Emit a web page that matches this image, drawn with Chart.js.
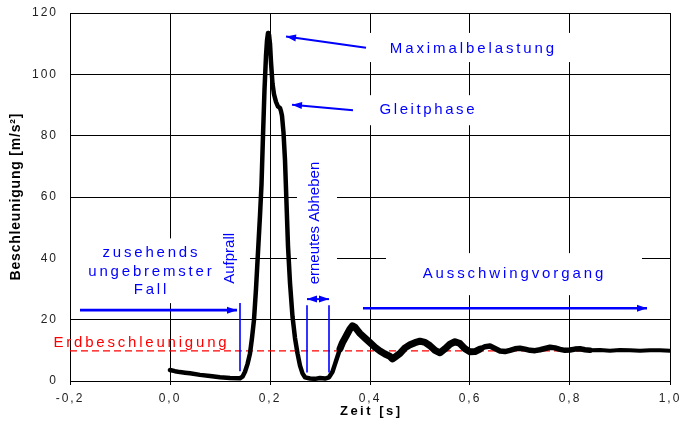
<!DOCTYPE html>
<html>
<head>
<meta charset="utf-8">
<script src="https://cdn.jsdelivr.net/npm/chart.js@4/dist/chart.umd.min.js"></script>
<style>
  body { margin: 0; background: #fff; }
  canvas { display: block; }
</style>
</head>
<body>
<canvas id="grafik" width="681" height="427"></canvas>
<script>
const zeit = [
  0.000, 0.010, 0.020, 0.030, 0.040, 0.060, 0.080, 0.100, 0.120, 0.140,
  0.145, 0.150, 0.155, 0.160, 0.164, 0.168, 0.172, 0.176, 0.180, 0.183,
  0.186, 0.189, 0.192, 0.194, 0.196, 0.197, 0.198, 0.200, 0.202, 0.205,
  0.208, 0.212, 0.216, 0.220, 0.222, 0.224, 0.227, 0.230, 0.233, 0.236,
  0.240, 0.245, 0.250, 0.255, 0.260, 0.265, 0.270, 0.280, 0.290, 0.300,
  0.310, 0.318, 0.325, 0.330, 0.335, 0.340, 0.345, 0.350, 0.355, 0.360,
  0.365, 0.370, 0.375, 0.380, 0.390, 0.400, 0.410, 0.420, 0.430, 0.440,
  0.445, 0.450, 0.460, 0.470, 0.480, 0.490, 0.500, 0.510, 0.520, 0.530,
  0.540, 0.550, 0.560, 0.570, 0.580, 0.590, 0.600, 0.610, 0.620, 0.630,
  0.640, 0.650, 0.660, 0.670, 0.680, 0.690, 0.700, 0.710, 0.720, 0.730,
  0.740, 0.750, 0.760, 0.770, 0.780, 0.790, 0.800, 0.810, 0.820, 0.830,
  0.840, 0.860, 0.880, 0.900, 0.920, 0.940, 0.960, 0.980, 1.000
];
const beschleunigung = [
  3.6, 3.2, 2.9, 2.7, 2.5, 2.0, 1.6, 1.2, 1.0, 0.9,
  1.4, 3.0, 5.5, 9.0, 14, 20, 30, 42, 54, 64,
  80, 95, 106, 111, 113.5, 111.5, 113, 110, 104, 97,
  93.5, 91, 89.5, 89, 88, 86.5, 81, 72, 58, 44,
  32, 21, 14, 9, 5, 2.5, 1.2, 0.8, 0.7, 1.0,
  0.8, 1.2, 3.0, 5.5, 8.0, 10.5, 12.5, 14, 15.5, 17,
  18, 17.5, 16.5, 15.5, 14, 12.5, 11, 9.8, 8.8, 8.0,
  7.2, 7.8, 9.0, 10.8, 11.8, 12.5, 13, 12.6, 11.5, 10,
  9.2, 10.5, 12, 12.8, 12.2, 10.5, 9.5, 9.6, 10.4, 11.2,
  11.4, 10.6, 9.8, 9.6, 10, 10.5, 10.7, 10.4, 10, 9.9,
  10.2, 10.6, 11, 10.8, 10.3, 10, 10.1, 10.4, 10.5, 10.2,
  10, 10.1, 9.9, 10.1, 10, 9.9, 10, 10, 9.9
];
const erdX = [-0.2, 1.0];
const erdY = [9.81, 9.81];
const xTickLabels = ['-0,2', '0,0', '0,2', '0,4', '0,6', '0,8', '1,0'];
const yTickLabels = ['0', '20', '40', '60', '80', '100', '120'];

const FONT = '"Liberation Sans", Arial, sans-serif';
const BLAU = '#0000ff';
const ROT = '#ff0000';

function text(ctx, s, x, y, font, color, sp, rot) {
  ctx.save();
  ctx.font = font;
  ctx.fillStyle = color;
  ctx.letterSpacing = sp + 'px';
  ctx.textAlign = 'center';
  ctx.textBaseline = 'middle';
  ctx.translate(x, y);
  if (rot) ctx.rotate(-Math.PI / 2);
  ctx.fillText(s, sp / 2, 0);
  ctx.restore();
}

function head(ctx, x0, y0, x1, y1, len, w) {
  const a = Math.atan2(y1 - y0, x1 - x0);
  ctx.beginPath();
  ctx.moveTo(x1, y1);
  ctx.lineTo(x1 - len * Math.cos(a) + w * Math.sin(a), y1 - len * Math.sin(a) - w * Math.cos(a));
  ctx.lineTo(x1 - len * Math.cos(a) - w * Math.sin(a), y1 - len * Math.sin(a) + w * Math.cos(a));
  ctx.closePath();
  ctx.fill();
}

function arrow(ctx, x0, y0, x1, y1, lw, both) {
  ctx.save();
  ctx.strokeStyle = BLAU;
  ctx.fillStyle = BLAU;
  ctx.lineWidth = lw;
  ctx.beginPath();
  ctx.moveTo(x0, y0);
  ctx.lineTo(x1, y1);
  ctx.stroke();
  head(ctx, x0, y0, x1, y1, 10, 3.5);
  if (both) head(ctx, x1, y1, x0, y0, 10, 3.5);
  ctx.restore();
}

function vline(ctx, x, y0, y1) {
  ctx.save();
  ctx.strokeStyle = BLAU;
  ctx.lineWidth = 1.6;
  ctx.beginPath();
  ctx.moveTo(x, y0);
  ctx.lineTo(x, y1);
  ctx.stroke();
  ctx.restore();
}

const notizen = {
  id: 'notizen',
  beforeDraw(chart) {
    chart.ctx.letterSpacing = '2px';
  },
  beforeDatasetsDraw(chart) {
    const ctx = chart.ctx;
    const X = v => chart.scales.x.getPixelForValue(v);
    const Y = v => chart.scales.y.getPixelForValue(v);
    ctx.save();
    ctx.fillStyle = '#fff';
    const box = (x0, x1, y0, y1) => ctx.fillRect(X(x0), Y(y0), X(x1) - X(x0), Y(y1) - Y(y0));
    box(0.396, 0.81, 113.5, 104);
    box(0.396, 0.614, 93.2, 83.4);
    box(-0.198, 0.16, 46.5, 25.4);
    box(0.254, 0.334, 72, 29);
    box(0.432, 0.944, 41.7, 28);
    ctx.restore();
  },
  afterDatasetsDraw(chart) {
    const ctx = chart.ctx;
    const X = v => chart.scales.x.getPixelForValue(v);
    const Y = v => chart.scales.y.getPixelForValue(v);
    const f15 = '15px ' + FONT;

    text(ctx, 'Maximalbelastung', X(0.604), Y(108.4), f15, BLAU, 2.9);
    arrow(ctx, X(0.392), Y(108.7), X(0.232), Y(112.3), 2);
    text(ctx, 'Gleitphase', X(0.514), Y(88.3), f15, BLAU, 2.6);
    arrow(ctx, X(0.366), Y(88.3), X(0.244), Y(90.1), 2);

    text(ctx, 'zusehends', X(-0.04), Y(41.7), f15, BLAU, 2.8);
    text(ctx, 'ungebremster', X(-0.04), Y(35.6), f15, BLAU, 2.8);
    text(ctx, 'Fall', X(-0.04), Y(29.6), f15, BLAU, 2.8);
    arrow(ctx, X(-0.18), Y(23.1), X(0.134), Y(23.1), 2.6);
    vline(ctx, X(0.14), Y(25.4), Y(3.2));
    text(ctx, 'Aufprall', X(0.12), Y(40), f15, BLAU, 0, true);

    text(ctx, 'Erdbeschleunigung', X(-0.06), Y(12.6), f15, ROT, 2.8);

    text(ctx, 'erneutes Abheben', X(0.29), Y(51.5), f15, BLAU, 0, true);
    arrow(ctx, X(0.274), Y(26.7), X(0.318), Y(26.7), 2, true);
    vline(ctx, X(0.274), Y(24.7), Y(2.8));
    vline(ctx, X(0.318), Y(24.7), Y(2.8));

    text(ctx, 'Ausschwingvorgang', X(0.686), Y(35.1), f15, BLAU, 2.9);
    arrow(ctx, X(0.386), Y(23.7), X(0.954), Y(23.7), 2.6);
  },
  afterDraw(chart) {
    const ctx = chart.ctx;
    const a = chart.chartArea;
    text(ctx, 'Zeit [s]', (a.left + a.right) / 2, 411, 'bold 13px ' + FONT, '#000', 2.5);
    text(ctx, 'Beschleunigung [m/s\u00b2]', 16, (a.top + a.bottom) / 2, 'bold 14px ' + FONT, '#000', 0.8, true);
  }
};

new Chart(document.getElementById('grafik'), {
  type: 'line',
  data: {
    datasets: [{
      data: zeit.map((t, i) => ({ x: t, y: beschleunigung[i] })),
      borderColor: '#000',
      borderWidth: 4.5,
      borderJoinStyle: 'round',
      borderCapStyle: 'round',
      pointRadius: 0,
      tension: 0,
      segment: {
        borderWidth: c => {
          const t = c.p0.parsed.x;
          if (t < 0.34) return 4.5;
          if (t < 0.62) return 7;
          if (t < 0.84) return 5.5;
          return 4;
        }
      }
    }, {
      data: erdX.map((t, i) => ({ x: t, y: erdY[i] })),
      borderColor: ROT,
      borderWidth: 1.2,
      borderDash: [7, 4],
      pointRadius: 0
    }]
  },
  options: {
    responsive: false,
    animation: false,
    devicePixelRatio: 1,
    layout: { padding: { left: 0, right: 11, top: 13, bottom: 0 } },
    plugins: {
      legend: { display: false },
      tooltip: { enabled: false }
    },
    scales: {
      x: {
        type: 'linear',
        min: -0.2,
        max: 1.0,
        afterFit: s => { s.height = 46; s.paddingLeft = 0; s.paddingRight = 0; },
        grid: { color: '#000', lineWidth: 1, tickLength: 4 },
        border: { color: '#000', width: 1 },
        ticks: {
          stepSize: 0.2,
          padding: 6,
          color: '#222',
          font: { family: FONT, size: 12 },
          maxRotation: 0,
          autoSkip: false,
          callback: (v, i) => xTickLabels[i]
        }
      },
      y: {
        min: 0,
        max: 120,
        afterFit: s => { s.width = 70; s.paddingTop = 0; s.paddingBottom = 0; },
        grid: { color: '#000', lineWidth: 1, drawTicks: false },
        border: { color: '#000', width: 1 },
        ticks: {
          stepSize: 20,
          padding: 12,
          color: '#222',
          font: { family: FONT, size: 12 },
          callback: (v, i) => yTickLabels[i]
        }
      }
    }
  },
  plugins: [notizen]
});
</script>
</body>
</html>
